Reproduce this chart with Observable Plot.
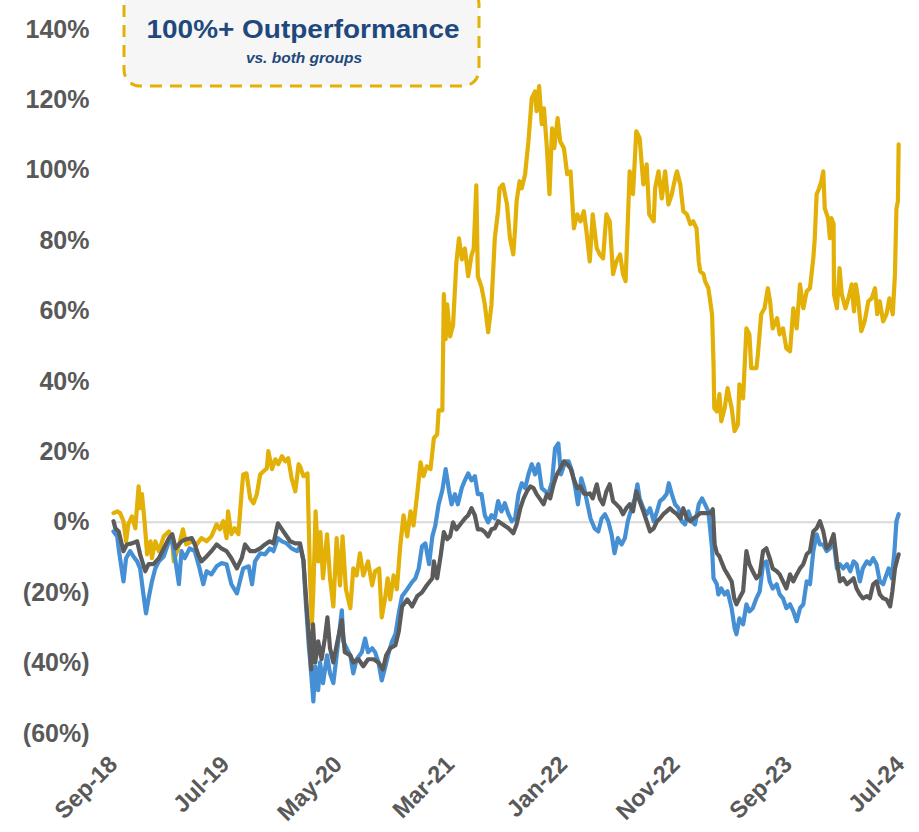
<!DOCTYPE html>
<html><head><meta charset="utf-8">
<script src="https://cdn.jsdelivr.net/npm/d3@7"></script>
<script src="https://cdn.jsdelivr.net/npm/@observablehq/plot@0.6"></script>
<style>
body{margin:0;background:#fff;}
#chart{position:relative;width:919px;height:832px;overflow:hidden;}
</style>
</head><body><div id="chart"></div>
<script>
// Company (gold) cumulative relative return, %
const goldSeries = [
["2018-09-01",2.6],["2018-09-11",3.1],["2018-09-19",2.6],["2018-09-28",0.3],["2018-10-05",-5.4],["2018-10-11",-0.6],["2018-10-21",1.7],["2018-10-30",-1.7],["2018-11-08",10.2],["2018-11-12",4.0],["2018-11-17",8.0],["2018-11-24",0.3],["2018-12-01",-9.1],["2018-12-10",-5.4],["2018-12-14",-10.2],["2018-12-23",-5.4],
["2019-01-02",-8.2],["2019-01-15",-4.0],["2019-01-29",-2.6],["2019-02-07",-5.4],["2019-02-11",-11.1],["2019-02-20",-8.2],["2019-02-28",-5.4],["2019-03-08",-2.0],["2019-03-17",-6.3],["2019-04-01",-5.4],["2019-04-14",-6.3],["2019-04-27",-4.5],["2019-05-11",-5.4],["2019-05-24",-4.0],["2019-06-07",-0.6],["2019-06-16",-2.0],["2019-06-25",0.3],["2019-07-04",-4.5],["2019-07-08",3.1],["2019-07-17",-3.4],["2019-07-26",-1.7],["2019-08-05",-3.4],["2019-08-14",8.8],["2019-08-18",13.6],["2019-08-27",13.9],["2019-09-06",6.8],["2019-09-15",5.4],["2019-09-24",8.0],["2019-10-03",13.6],["2019-10-12",14.5],["2019-10-21",15.3],["2019-10-25",20.2],["2019-11-04",15.1],["2019-11-13",17.9],["2019-11-21",16.5],["2019-12-01",18.8],["2019-12-10",17.3],["2019-12-18",18.2],["2019-12-27",12.5],
["2020-01-06",8.8],["2020-01-15",16.5],["2020-01-19",15.9],["2020-01-28",13.1],["2020-02-08",13.9],["2020-02-15",-15.9],["2020-02-20",-29.0],["2020-02-24",-19.0],["2020-03-01",3.1],["2020-03-08",-11.1],["2020-03-14",-2.8],["2020-03-21",-15.9],["2020-04-01",-3.4],["2020-04-09",-15.9],["2020-04-18",-23.9],["2020-04-27",-4.5],["2020-05-06",-17.9],["2020-05-13",-4.0],["2020-05-22",-19.0],["2020-06-03",-24.4],["2020-06-11",-13.1],["2020-06-20",-15.1],["2020-06-29",-8.8],["2020-07-08",-15.1],["2020-07-21",-11.1],["2020-08-01",-17.9],["2020-08-09",-13.9],["2020-08-20",-13.1],["2020-08-27",-27.0],["2020-09-06",-21.0],["2020-09-12",-15.9],["2020-09-19",-21.9],["2020-09-28",-15.1],["2020-10-07",-19.0],["2020-10-16",-6.8],["2020-10-25",2.0],["2020-11-04",-4.0],["2020-11-13",3.1],["2020-11-21",-0.9],["2020-12-01",8.0],["2020-12-10",17.0],["2020-12-18",13.1],["2020-12-27",15.9],
["2021-01-06",15.1],["2021-01-15",23.9],["2021-01-24",25.0],["2021-01-28",31.8],["2021-02-07",31.8],["2021-02-11",64.8],["2021-02-16",52.0],["2021-02-20",61.9],["2021-02-28",52.8],["2021-03-08",56.0],["2021-03-17",73.9],["2021-03-24",80.7],["2021-04-01",74.7],["2021-04-09",77.8],["2021-04-18",69.9],["2021-04-27",75.9],["2021-05-03",77.8],["2021-05-10",95.7],["2021-05-14",69.9],["2021-05-24",66.8],["2021-06-02",61.9],["2021-06-11",54.0],["2021-06-20",61.9],["2021-06-29",80.7],["2021-07-08",88.6],["2021-07-12",94.9],["2021-07-21",96.0],["2021-08-01",90.3],["2021-08-09",80.7],["2021-08-18",76.1],["2021-08-23",83.5],["2021-08-27",91.2],["2021-09-04",96.9],["2021-09-10",94.9],["2021-09-19",98.9],["2021-09-28",108.2],["2021-10-07",120.5],["2021-10-16",122.4],["2021-10-20",116.8],["2021-10-27",123.9],["2021-11-03",113.1],["2021-11-09",117.6],["2021-11-17",106.3],["2021-11-24",93.2],["2021-12-01",111.9],["2021-12-07",106.3],["2021-12-16",114.8],["2021-12-23",108.2],
["2022-01-02",106.3],["2022-01-11",98.9],["2022-01-20",99.7],["2022-01-29",83.5],["2022-02-07",87.5],["2022-02-16",85.5],["2022-02-25",88.4],["2022-03-04",82.7],["2022-03-13",74.1],["2022-03-21",87.5],["2022-04-01",77.8],["2022-04-09",76.1],["2022-04-18",75.0],["2022-04-27",87.5],["2022-05-06",85.5],["2022-05-15",70.5],["2022-05-24",74.1],["2022-06-03",76.1],["2022-06-11",70.5],["2022-06-18",68.5],["2022-06-24",85.5],["2022-06-29",99.7],["2022-07-08",93.2],["2022-07-17",111.1],["2022-07-26",109.1],["2022-08-05",96.0],["2022-08-14",101.7],["2022-08-21",87.5],["2022-09-02",85.5],["2022-09-06",94.9],["2022-09-15",99.7],["2022-09-24",92.0],["2022-10-03",99.7],["2022-10-12",90.3],["2022-10-21",93.2],["2022-10-30",97.7],["2022-11-04",99.7],["2022-11-13",96.0],["2022-11-21",88.4],["2022-12-01",87.5],["2022-12-10",84.7],["2022-12-18",85.5],["2022-12-27",83.5],
["2023-01-02",74.1],["2023-01-06",71.3],["2023-01-15",70.5],["2023-01-19",68.5],["2023-01-28",66.5],["2023-02-07",59.1],["2023-02-11",44.9],["2023-02-13",32.4],["2023-02-20",31.5],["2023-02-27",36.4],["2023-03-04",28.7],["2023-03-13",32.4],["2023-03-21",38.1],["2023-04-01",32.4],["2023-04-09",25.9],["2023-04-18",27.8],["2023-04-22",39.2],["2023-05-02",35.2],["2023-05-11",55.1],["2023-05-19",53.4],["2023-05-24",43.8],["2023-06-07",43.8],["2023-06-11",47.7],["2023-06-20",59.1],["2023-06-29",60.8],["2023-07-08",66.5],["2023-07-14",62.8],["2023-07-21",55.1],["2023-08-02",58.0],["2023-08-09",53.4],["2023-08-18",55.1],["2023-08-27",49.4],["2023-09-06",48.6],["2023-09-15",60.8],["2023-09-24",55.1],["2023-10-03",67.6],["2023-10-12",60.8],["2023-10-21",65.6],["2023-10-30",66.5],["2023-11-08",75.0],["2023-11-12",80.7],["2023-11-17",93.2],["2023-11-24",94.9],["2023-11-30",96.9],["2023-12-05",99.7],["2023-12-09",89.2],["2023-12-18",86.4],["2023-12-23",80.7],["2023-12-27",86.4],
["2024-01-02",84.7],["2024-01-03",64.8],["2024-01-11",60.8],["2024-01-18",72.2],["2024-01-24",64.8],["2024-02-03",60.8],["2024-02-11",63.6],["2024-02-20",67.6],["2024-02-26",59.9],["2024-03-02",67.6],["2024-03-08",63.6],["2024-03-17",54.3],["2024-03-26",57.1],["2024-04-05",62.8],["2024-04-14",63.6],["2024-04-23",66.5],["2024-04-29",59.1],["2024-05-06",62.8],["2024-05-15",57.1],["2024-05-24",59.1],["2024-06-01",63.6],["2024-06-10",59.1],["2024-06-16",70.5],["2024-06-20",89.2],["2024-06-24",91.2],["2024-06-26",107.4]
];

// Peer group (blue)
const blueSeries = [
["2018-09-01",-2.6],["2018-09-11",-4.0],["2018-09-16",-8.2],["2018-09-28",-16.8],["2018-10-05",-10.2],["2018-10-16",-8.2],["2018-10-25",-9.7],["2018-11-04",-11.1],["2018-11-12",-13.1],["2018-11-21",-20.5],["2018-11-28",-25.9],["2018-12-05",-21.6],["2018-12-14",-16.8],["2018-12-23",-13.1],
["2019-01-02",-11.1],["2019-01-15",-9.7],["2019-01-29",-5.4],["2019-02-07",-5.4],["2019-02-16",-11.1],["2019-02-25",-17.6],["2019-03-04",-8.2],["2019-03-13",-10.2],["2019-03-26",-7.4],["2019-04-09",-8.2],["2019-04-22",-13.1],["2019-05-02",-17.6],["2019-05-11",-13.9],["2019-05-24",-14.8],["2019-06-07",-12.5],["2019-06-20",-11.6],["2019-07-04",-11.9],["2019-07-17",-17.6],["2019-08-01",-20.2],["2019-08-09",-16.8],["2019-08-18",-13.1],["2019-09-02",-12.5],["2019-09-11",-17.6],["2019-09-19",-11.1],["2019-10-03",-8.8],["2019-10-16",-9.1],["2019-10-29",-7.4],["2019-11-08",-8.2],["2019-11-20",-4.5],["2019-12-01",-5.4],["2019-12-14",-6.0],["2019-12-27",-7.4],
["2020-01-11",-8.2],["2020-01-19",-6.8],["2020-01-28",-10.8],["2020-02-03",-21.9],["2020-02-12",-35.8],["2020-02-15",-38.9],["2020-02-20",-45.7],["2020-02-24",-50.9],["2020-02-29",-40.9],["2020-03-08",-47.7],["2020-03-13",-39.8],["2020-03-21",-45.7],["2020-04-01",-37.8],["2020-04-09",-42.9],["2020-04-18",-45.7],["2020-04-27",-37.8],["2020-05-11",-25.0],["2020-05-15",-33.8],["2020-05-24",-35.8],["2020-06-03",-37.8],["2020-06-11",-42.9],["2020-06-20",-38.9],["2020-07-04",-36.9],["2020-07-13",-33.0],["2020-07-21",-36.9],["2020-08-01",-35.8],["2020-08-09",-36.9],["2020-08-18",-39.8],["2020-08-27",-44.9],["2020-09-06",-40.9],["2020-09-15",-36.9],["2020-09-24",-33.8],["2020-10-03",-31.8],["2020-10-12",-25.9],["2020-10-21",-21.0],["2020-11-04",-19.0],["2020-11-17",-17.0],["2020-11-26",-15.9],["2020-12-05",-13.1],["2020-12-14",-6.8],["2020-12-23",-6.0],
["2021-01-02",-11.9],["2021-01-11",-4.0],["2021-01-19",-0.9],["2021-01-28",5.1],["2021-02-07",9.1],["2021-02-16",15.1],["2021-02-25",9.1],["2021-03-04",5.1],["2021-03-13",8.0],["2021-03-21",5.1],["2021-04-01",9.9],["2021-04-09",11.9],["2021-04-18",13.9],["2021-04-27",11.9],["2021-05-06",13.1],["2021-05-14",8.0],["2021-05-24",8.0],["2021-06-02",2.0],["2021-06-11",0.0],["2021-06-20",2.0],["2021-06-29",1.1],["2021-07-08",6.0],["2021-07-17",3.1],["2021-07-26",5.4],["2021-08-05",2.3],["2021-08-14",0.3],["2021-08-23",1.1],["2021-09-01",8.0],["2021-09-10",11.1],["2021-09-19",9.7],["2021-09-28",13.6],["2021-10-07",16.5],["2021-10-16",13.6],["2021-10-25",16.5],["2021-11-03",9.7],["2021-11-13",8.8],["2021-11-21",8.0],["2021-12-01",11.6],["2021-12-09",21.0],["2021-12-18",22.4],["2021-12-25",13.6],
["2022-01-06",17.3],["2022-01-15",17.3],["2022-01-24",14.5],["2022-02-02",9.7],["2022-02-09",5.1],["2022-02-18",12.5],["2022-02-26",9.7],["2022-03-07",5.1],["2022-03-15",1.1],["2022-03-26",-1.7],["2022-04-05",-2.6],["2022-04-14",1.1],["2022-04-23",2.3],["2022-05-02",0.3],["2022-05-11",-3.4],["2022-05-19",-8.8],["2022-05-28",-4.5],["2022-06-07",-6.3],["2022-06-16",-4.5],["2022-06-24",0.3],["2022-07-04",4.0],["2022-07-13",6.8],["2022-07-20",10.8],["2022-07-26",6.8],["2022-08-05",4.0],["2022-08-14",2.3],["2022-08-23",4.0],["2022-09-02",0.3],["2022-09-11",3.1],["2022-09-19",6.0],["2022-09-28",6.8],["2022-10-07",8.0],["2022-10-13",11.1],["2022-10-21",8.0],["2022-10-30",5.1],["2022-11-08",4.0],["2022-11-17",0.3],["2022-11-26",-0.6],["2022-12-05",3.1],["2022-12-14",0.3],["2022-12-23",-0.6],
["2023-01-02",5.1],["2023-01-11",6.8],["2023-01-19",5.1],["2023-01-28",3.1],["2023-02-07",-7.4],["2023-02-11",-15.9],["2023-02-20",-17.6],["2023-02-24",-20.5],["2023-03-04",-18.8],["2023-03-13",-20.5],["2023-03-21",-19.6],["2023-04-01",-24.4],["2023-04-09",-30.1],["2023-04-14",-31.8],["2023-04-22",-27.3],["2023-05-02",-29.0],["2023-05-11",-23.3],["2023-05-19",-25.3],["2023-05-28",-24.4],["2023-06-07",-21.6],["2023-06-16",-19.6],["2023-06-25",-11.9],["2023-07-04",-11.1],["2023-07-13",-16.8],["2023-07-21",-18.8],["2023-08-01",-17.6],["2023-08-09",-20.5],["2023-08-18",-21.6],["2023-08-27",-24.4],["2023-09-06",-23.3],["2023-09-15",-25.3],["2023-09-24",-28.1],["2023-10-03",-24.4],["2023-10-12",-23.3],["2023-10-21",-16.8],["2023-10-30",-17.6],["2023-11-08",-8.2],["2023-11-17",-3.4],["2023-11-26",-6.3],["2023-12-05",-6.3],["2023-12-14",-8.2],["2023-12-23",-7.4],
["2024-01-02",-5.4],["2024-01-11",-13.1],["2024-01-19",-11.9],["2024-01-28",-13.1],["2024-02-07",-11.9],["2024-02-16",-13.9],["2024-02-25",-11.1],["2024-03-04",-11.9],["2024-03-13",-16.8],["2024-03-21",-13.1],["2024-04-01",-11.1],["2024-04-09",-11.9],["2024-04-18",-10.2],["2024-04-27",-11.9],["2024-05-06",-16.8],["2024-05-15",-17.6],["2024-05-24",-14.8],["2024-05-30",-13.1],["2024-06-07",-15.9],["2024-06-14",-9.1],["2024-06-20",0.3],["2024-06-26",2.3]
];

// Second group (dark gray)
const graySeries = [
["2018-09-01",0.3],["2018-09-06",-1.7],["2018-09-15",-2.6],["2018-09-28",-8.2],["2018-10-07",-6.3],["2018-10-21",-6.0],["2018-11-04",-5.4],["2018-11-12",-9.1],["2018-11-26",-13.9],["2018-12-05",-11.9],["2018-12-18",-11.9],
["2019-01-02",-10.2],["2019-01-15",-7.4],["2019-01-29",-4.5],["2019-02-07",-3.4],["2019-02-16",-7.4],["2019-02-25",-6.3],["2019-03-04",-5.4],["2019-03-17",-4.8],["2019-04-01",-4.5],["2019-04-09",-6.3],["2019-04-18",-9.1],["2019-04-27",-11.1],["2019-05-11",-9.7],["2019-05-24",-8.2],["2019-06-07",-6.3],["2019-06-20",-7.4],["2019-07-04",-8.2],["2019-07-17",-10.2],["2019-08-01",-13.1],["2019-08-14",-10.2],["2019-08-23",-6.3],["2019-09-06",-8.2],["2019-09-19",-8.2],["2019-10-03",-7.4],["2019-10-16",-6.3],["2019-10-29",-5.4],["2019-11-08",-6.0],["2019-11-20",-0.3],["2019-12-01",-2.0],["2019-12-10",-3.4],["2019-12-23",-5.4],
["2020-01-06",-6.0],["2020-01-19",-6.0],["2020-01-28",-10.8],["2020-02-07",-25.9],["2020-02-14",-35.8],["2020-02-18",-41.8],["2020-02-23",-29.0],["2020-02-29",-39.8],["2020-03-08",-33.8],["2020-03-17",-38.9],["2020-03-26",-33.0],["2020-04-02",-27.0],["2020-04-09",-35.8],["2020-04-18",-39.8],["2020-04-27",-34.9],["2020-05-11",-27.8],["2020-05-19",-36.9],["2020-06-03",-37.8],["2020-06-11",-39.8],["2020-06-25",-38.9],["2020-07-08",-40.9],["2020-07-21",-38.9],["2020-08-05",-38.9],["2020-08-18",-39.8],["2020-08-30",-41.8],["2020-09-08",-37.8],["2020-09-19",-35.8],["2020-10-03",-34.9],["2020-10-12",-31.0],["2020-10-21",-23.9],["2020-11-04",-21.9],["2020-11-17",-23.9],["2020-12-01",-21.0],["2020-12-14",-19.9],["2020-12-27",-17.9],
["2021-01-11",-15.9],["2021-01-15",-11.1],["2021-01-24",-15.9],["2021-02-03",-9.1],["2021-02-11",-2.8],["2021-02-20",-4.8],["2021-02-28",-4.0],["2021-03-08",0.0],["2021-03-17",-2.0],["2021-04-01",0.0],["2021-04-09",1.1],["2021-04-18",2.0],["2021-04-27",4.0],["2021-05-06",2.0],["2021-05-14",-2.0],["2021-05-24",-2.0],["2021-06-02",-2.8],["2021-06-11",-4.0],["2021-06-20",-2.0],["2021-06-29",-1.7],["2021-07-08",0.3],["2021-07-21",-0.6],["2021-08-05",-1.7],["2021-08-18",-3.1],["2021-08-27",-0.6],["2021-09-06",4.0],["2021-09-15",6.8],["2021-09-24",8.8],["2021-10-03",10.2],["2021-10-12",9.7],["2021-10-20",8.0],["2021-10-30",6.5],["2021-11-08",5.1],["2021-11-17",8.0],["2021-11-26",6.8],["2021-12-05",10.8],["2021-12-14",13.6],["2021-12-23",15.3],
["2022-01-02",17.3],["2022-01-11",16.5],["2022-01-20",15.3],["2022-01-29",12.2],["2022-02-07",9.7],["2022-02-16",10.2],["2022-02-25",8.2],["2022-03-04",8.0],["2022-03-13",8.2],["2022-03-21",6.8],["2022-04-01",10.8],["2022-04-09",6.8],["2022-04-18",5.1],["2022-04-27",8.8],["2022-05-06",10.8],["2022-05-15",6.0],["2022-05-24",5.1],["2022-06-03",4.0],["2022-06-11",2.3],["2022-06-20",4.0],["2022-06-29",5.1],["2022-07-08",3.1],["2022-07-17",8.8],["2022-07-26",6.0],["2022-08-05",3.1],["2022-08-14",0.3],["2022-08-23",-2.6],["2022-09-02",-1.7],["2022-09-11",0.3],["2022-09-19",1.1],["2022-09-28",2.3],["2022-10-07",3.1],["2022-10-16",4.0],["2022-10-25",3.1],["2022-11-04",2.3],["2022-11-13",1.1],["2022-11-21",4.0],["2022-12-01",1.1],["2022-12-10",0.3],["2022-12-18",1.1],["2022-12-27",1.7],
["2023-01-06",2.6],["2023-01-19",2.6],["2023-02-03",2.6],["2023-02-09",3.7],["2023-02-14",-6.3],["2023-02-20",-8.8],["2023-02-27",-9.7],["2023-03-04",-11.1],["2023-03-13",-13.4],["2023-03-21",-14.8],["2023-04-01",-16.8],["2023-04-08",-21.6],["2023-04-14",-23.3],["2023-04-22",-21.6],["2023-05-02",-19.6],["2023-05-11",-8.2],["2023-05-19",-11.9],["2023-05-28",-13.9],["2023-06-07",-15.9],["2023-06-16",-14.8],["2023-06-25",-8.2],["2023-07-04",-7.4],["2023-07-13",-10.2],["2023-07-21",-13.1],["2023-08-01",-13.9],["2023-08-09",-14.8],["2023-08-18",-16.8],["2023-08-27",-18.8],["2023-09-06",-14.8],["2023-09-15",-16.8],["2023-09-24",-14.8],["2023-10-03",-13.1],["2023-10-12",-11.9],["2023-10-21",-9.1],["2023-10-30",-8.2],["2023-11-08",-2.6],["2023-11-17",-1.7],["2023-11-26",0.3],["2023-12-05",-2.6],["2023-12-14",-7.4],["2023-12-23",-6.3],
["2024-01-02",-3.4],["2024-01-11",-11.1],["2024-01-19",-16.8],["2024-01-28",-15.9],["2024-02-07",-17.6],["2024-02-16",-16.8],["2024-02-25",-15.9],["2024-03-04",-18.8],["2024-03-13",-20.5],["2024-03-21",-21.6],["2024-04-01",-21.0],["2024-04-09",-21.6],["2024-04-18",-17.6],["2024-04-27",-16.8],["2024-05-06",-20.5],["2024-05-15",-21.6],["2024-05-24",-21.9],["2024-06-03",-23.9],["2024-06-09",-19.6],["2024-06-16",-13.1],["2024-06-23",-10.2],["2024-06-26",-9.1]
];

const xTickDates = ["2018-09-01","2019-07-01","2020-05-01","2021-03-01","2022-01-01","2022-11-01","2023-09-01","2024-07-01"];
const yTickValues = [-60,-40,-20,0,20,40,60,80,100,120,140];
const calloutTitle = "100%+ Outperformance";
const calloutSubtitle = "vs. both groups";

const colors = {gold:"#E2B007", blue:"#4590D4", gray:"#5B5B5B"};
const toRows = (arr) => arr.map(([d, v]) => ({date: new Date(d + "T00:00:00Z"), value: v}));

const FONT = "'Liberation Sans', Arial, Helvetica, sans-serif";
const fmtDate = d3.utcFormat("%b-%y");
const fmtPct = v => v < 0 ? `(${-v}%)` : `${v}%`;

const chart = Plot.plot({
  width: 919,
  height: 832,
  marginLeft: 113,
  marginRight: 19,
  marginTop: 29,
  marginBottom: 99,
  style: {fontFamily: FONT, background: "transparent", overflow: "visible"},
  x: {type: "utc", domain: [new Date("2018-09-01T00:00:00Z"), new Date("2024-07-01T00:00:00Z")]},
  y: {domain: [-60, 140]},
  marks: [
    Plot.ruleY([0], {stroke: "#d9d9d9", strokeWidth: 2}),
    Plot.lineY(toRows(goldSeries), {x: "date", y: "value", stroke: colors.gold, strokeWidth: 4.2, strokeLinejoin: "round"}),
    Plot.lineY(toRows(blueSeries), {x: "date", y: "value", stroke: colors.blue, strokeWidth: 4.2, strokeLinejoin: "round"}),
    Plot.lineY(toRows(graySeries), {x: "date", y: "value", stroke: colors.gray, strokeWidth: 4.2, strokeLinejoin: "round"}),
    Plot.axisY({ticks: yTickValues, tickFormat: fmtPct, tickSize: 0, tickPadding: 24, label: null,
      fontSize: 25, fontWeight: "bold", fill: "#595959"}),
    Plot.axisX({ticks: xTickDates.map(d => new Date(d + "T00:00:00Z")), tickFormat: fmtDate, label: null,
      tickSize: 0, tickPadding: 27, tickRotate: -45, fontSize: 23.5, fontWeight: "bold", fill: "#595959"})
  ]
});

document.getElementById("chart").appendChild(chart);

const svg = d3.select(chart);
const g = svg.append("g").attr("class", "callout");
g.append("rect")
  .attr("x", 124).attr("y", -12).attr("width", 355).attr("height", 98).attr("rx", 16)
  .attr("fill", "#f6f6f6").attr("stroke", colors.gold).attr("stroke-width", 3)
  .attr("stroke-dasharray", "12 8");
g.append("text").attr("x", 303).attr("y", 38).attr("text-anchor", "middle")
  .attr("font-family", FONT).attr("font-size", 25.5).attr("font-weight", "bold")
  .attr("textLength", 313).attr("lengthAdjust", "spacingAndGlyphs")
  .attr("fill", "#1F497D").text(calloutTitle);
g.append("text").attr("x", 304).attr("y", 63).attr("text-anchor", "middle")
  .attr("font-family", FONT).attr("font-size", 15.5).attr("font-weight", "bold").attr("font-style", "italic")
  .attr("fill", "#1F497D").text(calloutSubtitle);
</script>
</body></html>
